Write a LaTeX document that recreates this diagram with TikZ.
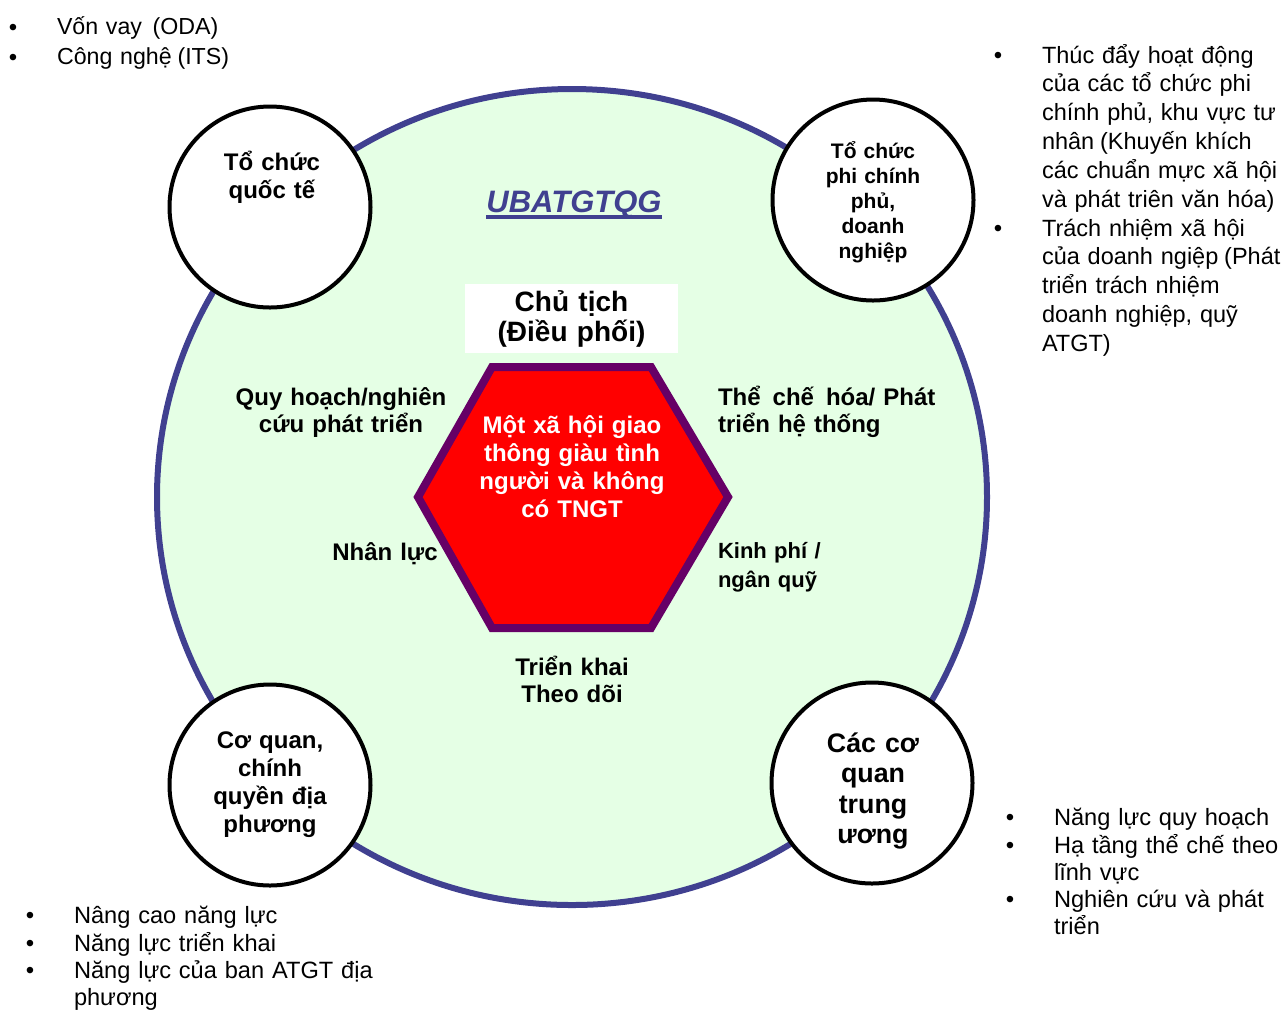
\documentclass[tikz,border=0pt]{standalone}
\usepackage{fontspec}
\setmainfont{Liberation Sans}
\usepackage{tikz}
\usetikzlibrary{shapes.geometric,positioning}
\definecolor{ringblue}{RGB}{64,64,144}
\definecolor{ringfill}{RGB}{229,255,229}
\definecolor{hexborder}{RGB}{102,0,102}
\newcommand{\fsz}[2]{\fontsize{#1pt}{#2pt}\selectfont}
\newcommand{\fwl}{\hspace{0.25em}(}

\begin{document}
\begin{tikzpicture}[x=0.5pt,y=-0.5pt]
\tikzstyle{every node}=[inner sep=0pt,outer sep=0pt];
\tikzstyle{ring}=[ellipse,draw=ringblue,line width=3pt,fill=ringfill,minimum width=415pt,minimum height=408pt];
\tikzstyle{actor}=[circle,draw=black,line width=2pt,fill=white,minimum size=100.5pt];
\tikzstyle{actortxt}=[anchor=base,text width=100pt,align=center,font=\bfseries\fsz{12}{14}];
\tikzstyle{goal}=[draw=hexborder,line width=4pt,fill=red];
\tikzstyle{goaltxt}=[anchor=base,text width=120pt,align=center,text=white,font=\bfseries\fsz{12}{14}];
\tikzstyle{chair}=[fill=white,minimum width=106.5pt,minimum height=34.5pt,text width=106.5pt,align=center,font=\bfseries\fsz{14}{15}];
\tikzstyle{role}=[anchor=base,text width=120pt,align=center,font=\bfseries\fsz{12}{13.75}];
\tikzstyle{roleL}=[anchor=base west,text width=120pt,align=left,font=\bfseries\fsz{12}{13.75}];
\tikzstyle{dot}=[anchor=base,font=\fsz{12}{14}];
\tikzstyle{item}=[anchor=base west,text width=200pt,align=left,font=\fsz{11.8}{13.7}];

\useasboundingbox (0,0) rectangle (1284,1009);

% big ring and the four partners
\node[ring] (ring) at (572,497) {};
\node[actor] (intl) at (270,207) {};
\node[actor] (ngo) at (873,200) {};
\node[actor] (local) at (270,785) {};
\node[actor] (central) at (872,783) {};

\node[actortxt] (intltxt) at (272,170) {Tổ chức\\quốc tế};
\node[actortxt,font=\bfseries\fsz{10.5}{12.5}] (ngotxt) at (873,158) {Tổ chức\\phi chính\\phủ,\\doanh\\nghiệp};
\node[actortxt] (localtxt) at (270,748) {Cơ quan,\\chính\\quyền địa\\phương};
\node[actortxt,font=\bfseries\fsz{13.4}{15.25}] (centraltxt) at (873,752) {Các cơ\\quan\\trung\\ương};

% committee
\node[anchor=base,text=ringblue,font=\bfseries\itshape\fsz{15.5}{18}] (title) at (574,212) {UBATGTQG};
\draw[ringblue,line width=1.6pt] ([yshift=-2.5pt]title.base west) -- ([yshift=-2.5pt]title.base east);
\node[chair] (chair) at (571.5,318.5) {Chủ tịch\\(Điều phối)};

% goal hexagon
\draw[goal] (418,497) -- (492,367) -- (651,367) -- (728,497) -- (651,628) -- (492,628) -- cycle;
\node[goaltxt] (goalt) at (572,433) {Một xã hội giao\\thông giàu tình\\người và không\\có TNGT};

\node[role] (plan) at (341,405) {Quy hoạch/nghiên\\cứu phát triển};
\node[roleL] (inst) at (718,405) {Thể\hspace{0.5em}chế\hspace{0.5em}hóa/ Phát\\triển hệ thống};
\node[role] (staff) at (385,560) {Nhân lực};
\node[roleL,font=\bfseries\fsz{11}{14.5}] (fund) at (718,558) {Kinh phí /\\ngân quỹ};
\node[role] (impl) at (572,675) {Triển khai\\Theo dõi};

% bullet lists
\foreach \x/\y [count=\i] in {13/35,13/65,998/63,998/236,30/923,30/951,30/978,1010/825,1010/853,1010/907}
  \node[dot] (bul\i) at (\x,\y) {•};

\node[item,font=\fsz{11.6}{15}] (oda) at (57,34) {Vốn vay\hspace{0.45em}(ODA)};
\node[item,font=\fsz{11.6}{15}] (its) at (57,64) {Công nghệ\fwl ITS)};

\node[item,font=\fsz{11.75}{14.4}] (ngo1) at (1042,63) {Thúc đẩy hoạt động\\của các tổ chức phi\\chính phủ, khu vực tư\\nhân\fwl Khuyến khích\\các chuẩn mực xã hội\\và phát triên văn hóa)};
\node[item,font=\fsz{11.75}{14.4}] (ngo2) at (1042,236) {Trách nhiệm xã hội\\của doanh ngiệp\fwl Phát\\triển trách nhiệm\\doanh nghiệp, quỹ\\ATGT)};

\node[item] (loc1) at (74,923) {Nâng cao năng lực};
\node[item] (loc2) at (74,951) {Năng lực triển khai};
\node[item] (loc3) at (74,978) {Năng lực của ban ATGT địa\\phương};

\node[item] (cen1) at (1054,825) {Năng lực quy hoạch};
\node[item] (cen2) at (1054,853) {Hạ tầng thể chế theo\\lĩnh vực};
\node[item] (cen3) at (1054,907) {Nghiên cứu và phát\\triển};

\end{tikzpicture}
\end{document}
